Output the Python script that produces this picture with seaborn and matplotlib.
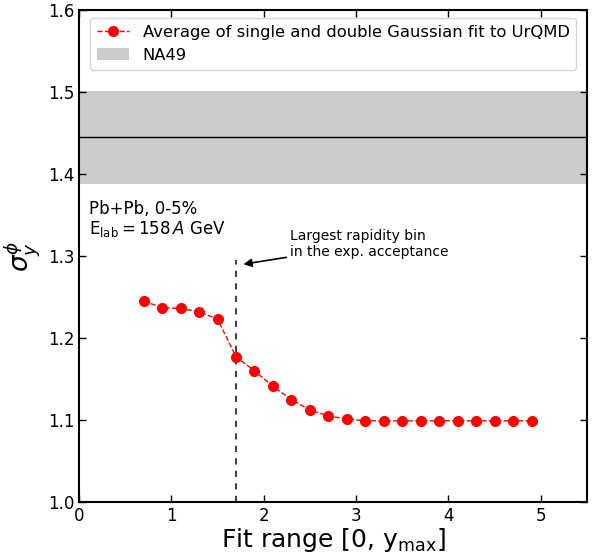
import matplotlib
matplotlib.use("Agg")
import matplotlib.pyplot as plt
import seaborn as sns
import pandas as pd
from matplotlib.patches import Patch
from matplotlib.lines import Line2D

sns.set_style("ticks")
plt.rcParams['font.family'] = ['DejaVu Sans']
plt.rcParams['text.color'] = 'black'
plt.rcParams['axes.labelcolor'] = 'black'
plt.rcParams['xtick.color'] = 'black'
plt.rcParams['ytick.color'] = 'black'

ymax_vals = [0.7, 0.9, 1.1, 1.3, 1.5, 1.7, 1.9, 2.1, 2.3, 2.5, 2.7, 2.9,
             3.1, 3.3, 3.5, 3.7, 3.9, 4.1, 4.3, 4.5, 4.7, 4.9]
sigma_vals = [1.245, 1.237, 1.236, 1.232, 1.223, 1.177, 1.160, 1.141, 1.125,
              1.112, 1.105, 1.101, 1.099, 1.099, 1.099, 1.099, 1.099, 1.099,
              1.099, 1.099, 1.099, 1.099]
na49_center = 1.445
na49_low = 1.388
na49_high = 1.501
acc_x = 1.7
acc_top = 1.295

df = pd.DataFrame({"ymax": ymax_vals, "sigma": sigma_vals})

fig = plt.figure(figsize=(6.0, 5.54), dpi=100)
ax = fig.add_axes([79/600, 1 - 502/554, (587-79)/600, (502-10)/554])

ax.axhspan(na49_low, na49_high, color="#cccccc", lw=0, zorder=0)
ax.axhline(na49_center, color="black", lw=1.0, zorder=1)

sns.lineplot(data=df, x="ymax", y="sigma", ax=ax, color="red", linestyle="--",
             lw=1.0, marker="o", markersize=8, markeredgewidth=0, zorder=3)

ax.plot([acc_x, acc_x], [1.0, acc_top], color="#444444", ls=(0, (3, 3)), lw=1.5, zorder=2)
ax.annotate("Largest rapidity bin\nin the exp. acceptance", xy=(1.78, 1.29),
            xytext=(2.28, 1.296), fontsize=10, ha="left", va="bottom",
            arrowprops=dict(arrowstyle="-|>", color="black", lw=1.2, mutation_scale=12,
                            shrinkA=0, shrinkB=0))

ax.text(0.11, 1.368, "Pb+Pb, 0-5%", fontsize=12, ha="left", va="top")
ax.text(0.11, 1.345, r"E$_{\mathrm{lab}} = 158\,A$ GeV", fontsize=12, ha="left", va="top")

ax.set_xlim(0, 5.5)
ax.set_ylim(1.0, 1.6)
ax.set_xticks([0, 1, 2, 3, 4, 5])
ax.set_yticks([1.0, 1.1, 1.2, 1.3, 1.4, 1.5, 1.6])
ax.tick_params(direction="in", top=True, right=True, labelsize=12, length=5, width=1)
for s in ax.spines.values():
    s.set_linewidth(1.5)
    s.set_color("black")
ax.set_xlabel(r"Fit range [0, y$_{\mathrm{max}}$]", fontsize=18, labelpad=1)
ax.set_ylabel(r"$\sigma_y^{\phi}$", fontsize=19, labelpad=4)

handles = [Line2D([0], [0], color="red", ls="--", lw=1.0, marker="o", markersize=8,
                  markeredgewidth=0),
           Patch(facecolor="#cccccc", edgecolor="none")]
labels = ["Average of single and double Gaussian fit to UrQMD", "NA49"]
ax.legend(handles, labels, loc="upper right", fontsize=11.8, frameon=True,
          bbox_to_anchor=(0.985, 0.99), borderaxespad=0.2)

fig.savefig("out.png", dpi=100)
